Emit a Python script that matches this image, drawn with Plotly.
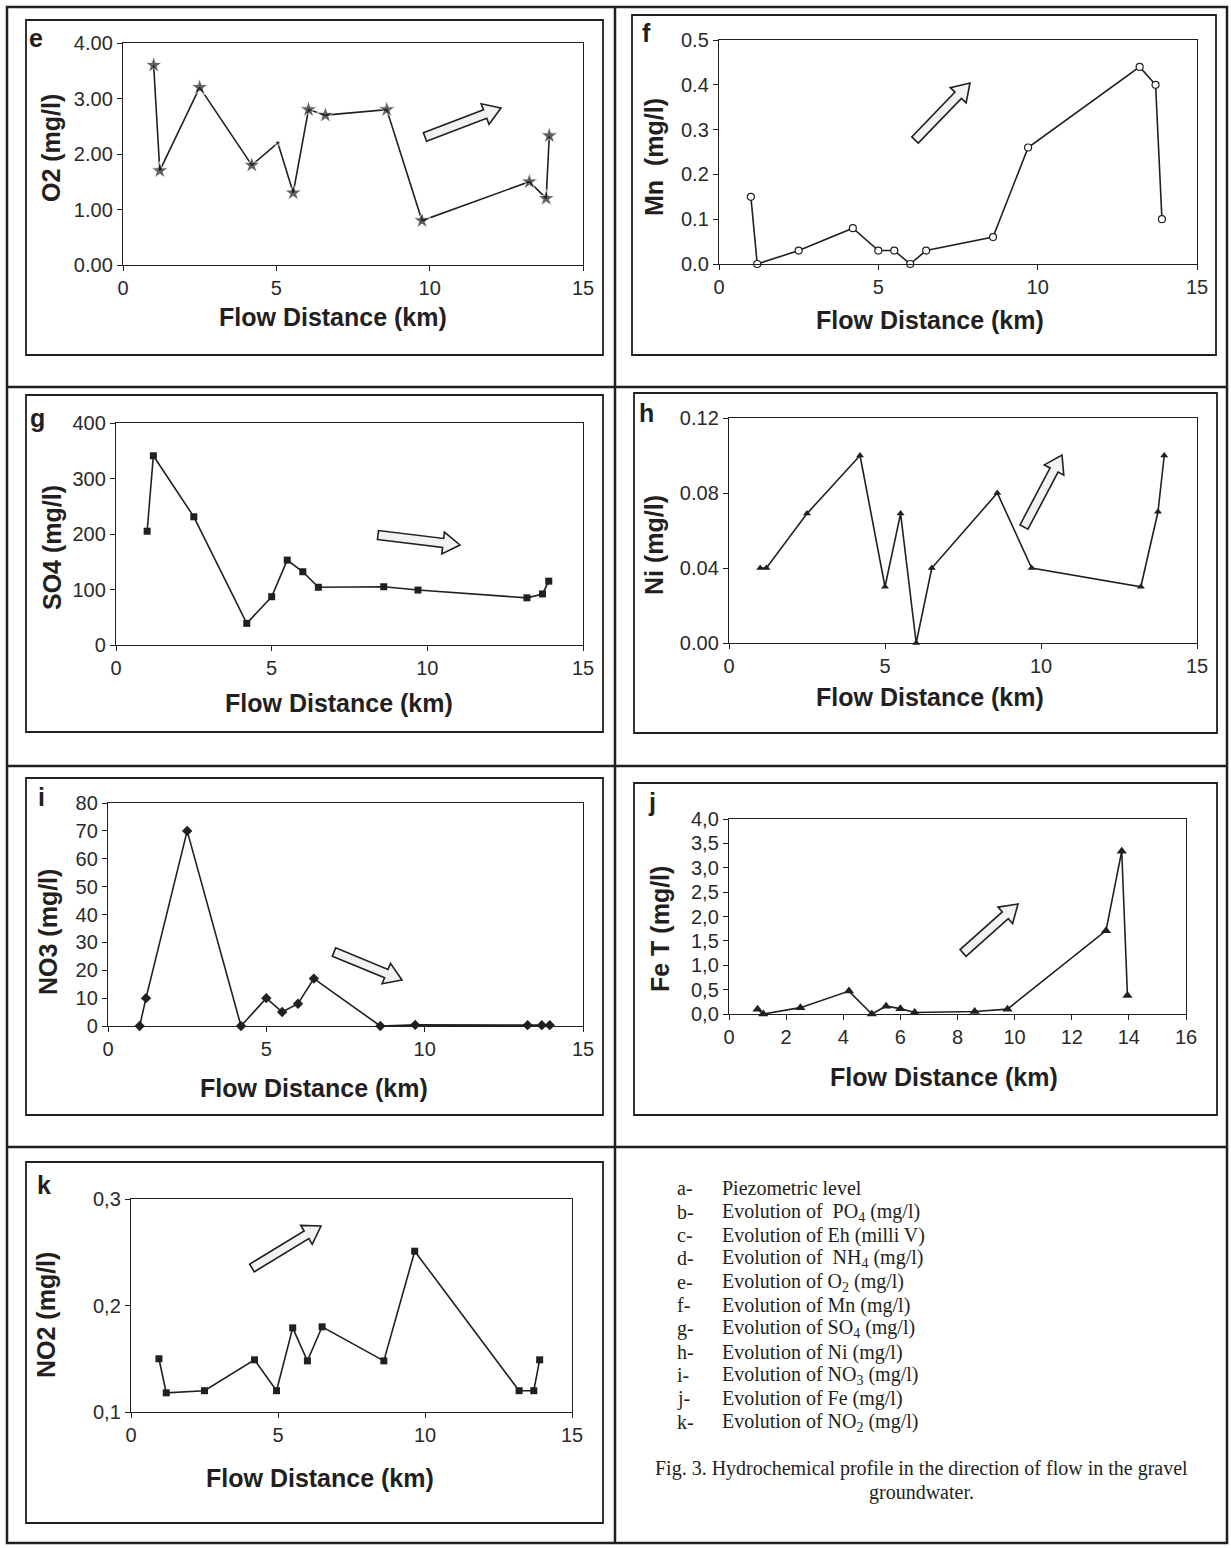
import math
import plotly.graph_objects as go

W, H = 1231, 1548

# ---------------- data ----------------
dist_e = [1.0, 1.2, 2.5, 4.2, 5.05, 5.55, 6.05, 6.6, 8.6, 9.75, 13.25, 13.8, 13.9]
o2 = [3.6, 1.7, 3.2, 1.8, 2.2, 1.3, 2.8, 2.7, 2.8, 0.8, 1.5, 1.2, 2.33]

dist_f = [1.0, 1.2, 2.5, 4.2, 5.0, 5.5, 6.0, 6.5, 8.6, 9.7, 13.2, 13.7, 13.9]
mn = [0.15, 0.0, 0.03, 0.08, 0.03, 0.03, 0.0, 0.03, 0.06, 0.26, 0.44, 0.40, 0.10]

dist_g = [1.0, 1.2, 2.5, 4.2, 5.0, 5.5, 6.0, 6.5, 8.6, 9.7, 13.2, 13.7, 13.9]
so4 = [205, 341, 231, 39, 87, 153, 132, 104, 105, 99, 85, 92, 115]

dist_h = [1.0, 1.2, 2.5, 4.2, 5.0, 5.5, 6.0, 6.5, 8.6, 9.7, 13.2, 13.75, 13.95]
ni = [0.04, 0.04, 0.069, 0.1, 0.03, 0.069, 0.0, 0.04, 0.08, 0.04, 0.03, 0.07, 0.1]

dist_i = [1.0, 1.2, 2.5, 4.2, 5.0, 5.5, 6.0, 6.5, 8.6, 9.7, 13.25, 13.7, 13.95]
no3 = [0, 10, 70, 0, 10, 5, 8, 17, 0, 0.4, 0.3, 0.3, 0.3]

dist_j = [1.0, 1.2, 2.5, 4.2, 5.0, 5.5, 6.0, 6.5, 8.6, 9.75, 13.2, 13.75, 13.95]
fe = [0.1, 0.0, 0.13, 0.47, 0.0, 0.16, 0.11, 0.03, 0.05, 0.1, 1.71, 3.34, 0.38]

dist_k = [0.95, 1.2, 2.5, 4.2, 4.95, 5.5, 6.0, 6.5, 8.6, 9.65, 13.2, 13.7, 13.9]
no2 = [0.15, 0.118, 0.12, 0.149, 0.12, 0.179, 0.148, 0.18, 0.148, 0.251, 0.12, 0.12, 0.149]

# tick labels
e_yvals = [0, 1, 2, 3, 4]
e_ytext = ["0.00", "1.00", "2.00", "3.00", "4.00"]
f_yvals = [0, 0.1, 0.2, 0.3, 0.4, 0.5]
f_ytext = ["0.0", "0.1", "0.2", "0.3", "0.4", "0.5"]
g_yvals = [0, 100, 200, 300, 400]
g_ytext = ["0", "100", "200", "300", "400"]
h_yvals = [0, 0.04, 0.08, 0.12]
h_ytext = ["0.00", "0.04", "0.08", "0.12"]
i_yvals = [0, 10, 20, 30, 40, 50, 60, 70, 80]
i_ytext = ["0", "10", "20", "30", "40", "50", "60", "70", "80"]
j_yvals = [0, 0.5, 1, 1.5, 2, 2.5, 3, 3.5, 4]
j_ytext = ["0,0", "0,5", "1,0", "1,5", "2,0", "2,5", "3,0", "3,5", "4,0"]
k_yvals = [0.1, 0.2, 0.3]
k_ytext = ["0,1", "0,2", "0,3"]
x15_vals = [0, 5, 10, 15]
x16_vals = [0, 2, 4, 6, 8, 10, 12, 14, 16]

legend_keys = ["a-", "b-", "c-", "d-", "e-", "f-", "g-", "h-", "i-", "j-", "k-"]
legend_texts = [
    "Piezometric level",
    "Evolution of  PO<sub>4</sub> (mg/l)",
    "Evolution of Eh (milli V)",
    "Evolution of  NH<sub>4</sub> (mg/l)",
    "Evolution of O<sub>2</sub> (mg/l)",
    "Evolution of Mn (mg/l)",
    "Evolution of SO<sub>4</sub> (mg/l)",
    "Evolution of Ni (mg/l)",
    "Evolution of NO<sub>3</sub> (mg/l)",
    "Evolution of Fe (mg/l)",
    "Evolution of NO<sub>2</sub> (mg/l)",
]
caption_1 = "Fig. 3. Hydrochemical profile in the direction of flow in the gravel"
caption_2 = "groundwater."

# ---------------- layout / style ----------------
INK = "#231f20"
SANS = "Liberation Sans, Arial, sans-serif"
SERIF = "Liberation Serif, Times New Roman, serif"


def px(x, y):
    return x / W, 1 - y / H


panels = [
    dict(letter="e", lpos=(36, 38), plot=(123, 43, 583, 265), box=(26, 20, 603, 355),
         x=dist_e, y=o2, xr=[0, 15], xv=x15_vals, yr=[0, 4], yv=e_yvals, yt=e_ytext,
         ytitle="O2 (mg/l)", ytp=(51, 148), xtp=(333, 317),
         marker=dict(symbol="star", size=[13, 13, 13, 13, 6, 13, 13, 13, 13, 13, 13, 13, 13],
                     color=INK),
         arrow=((425, 137), (501, 108))),
    dict(letter="f", lpos=(646, 33), plot=(719, 40, 1197, 264), box=(632, 15, 1216, 355),
         x=dist_f, y=mn, xr=[0, 15], xv=x15_vals, yr=[0, 0.5], yv=f_yvals, yt=f_ytext,
         ytitle="Mn  (mg/l)", ytp=(654, 157), xtp=(930, 320),
         marker=dict(symbol="circle", size=7, color="white", line=dict(color=INK, width=1.2)),
         arrow=((915, 140), (970, 83))),
    dict(letter="g", lpos=(37, 418), plot=(116, 423, 583, 645), box=(26, 395, 603, 732),
         x=dist_g, y=so4, xr=[0, 15], xv=x15_vals, yr=[0, 400], yv=g_yvals, yt=g_ytext,
         ytitle="SO4 (mg/l)", ytp=(52, 548), xtp=(339, 703),
         marker=dict(symbol="square", size=7, color=INK),
         arrow=((378, 535), (460, 545))),
    dict(letter="h", lpos=(646, 413), plot=(729, 418, 1197, 643), box=(634, 393, 1217, 733),
         x=dist_h, y=ni, xr=[0, 15], xv=x15_vals, yr=[0, 0.12], yv=h_yvals, yt=h_ytext,
         ytitle="Ni (mg/l)", ytp=(654, 545), xtp=(930, 697),
         marker=dict(symbol="triangle-up", size=7, color=INK),
         arrow=((1024, 527), (1062, 455))),
    dict(letter="i", lpos=(41, 797), plot=(108, 803, 583, 1026), box=(26, 778, 603, 1115),
         x=dist_i, y=no3, xr=[0, 15], xv=x15_vals, yr=[0, 80], yv=i_yvals, yt=i_ytext,
         ytitle="NO3 (mg/l)", ytp=(48, 932), xtp=(314, 1088),
         marker=dict(symbol="diamond", size=8, color=INK),
         arrow=((334, 952), (402, 980))),
    dict(letter="j", lpos=(652, 802), plot=(729, 819, 1186, 1014), box=(634, 783, 1217, 1115),
         x=dist_j, y=fe, xr=[0, 16], xv=x16_vals, yr=[0, 4], yv=j_yvals, yt=j_ytext,
         ytitle="Fe T (mg/l)", ytp=(660, 929), xtp=(944, 1077),
         marker=dict(symbol="triangle-up", size=9, color=INK),
         arrow=((963, 953), (1018, 904))),
    dict(letter="k", lpos=(44, 1185), plot=(131, 1199, 572, 1412), box=(26, 1162, 603, 1523),
         x=dist_k, y=no2, xr=[0, 15], xv=x15_vals, yr=[0.1, 0.3], yv=k_yvals, yt=k_ytext,
         ytitle="NO2 (mg/l)", ytp=(46, 1315), xtp=(320, 1478),
         marker=dict(symbol="square", size=7, color=INK),
         arrow=((252, 1268), (321, 1226))),
]


def arrow_path(tail, tip, w=4.5, hw=11, hl=17):
    (x0, y0), (x1, y1) = tail, tip
    dx, dy = x1 - x0, y1 - y0
    L = math.hypot(dx, dy)
    ux, uy = dx / L, dy / L
    nx, ny = -uy, ux
    bx, by = x1 - ux * hl, y1 - uy * hl
    pts = [
        (x0 + nx * w, y0 + ny * w),
        (bx + nx * w, by + ny * w),
        (bx + nx * hw, by + ny * hw),
        (x1, y1),
        (bx - nx * hw, by - ny * hw),
        (bx - nx * w, by - ny * w),
        (x0 - nx * w, y0 - ny * w),
    ]
    s = ""
    for i, (x, y) in enumerate(pts):
        X, Y = px(x, y)
        s += ("M" if i == 0 else "L") + f"{X:.5f},{Y:.5f} "
    return s + "Z"


fig = go.Figure()
shapes = []
annotations = []
layout_axes = {}

# table grid
tl, tt, tr, tb = 7, 7, 1227, 1543
X0, Y0 = px(tl, tt)
X1, Y1 = px(tr, tb)
shapes.append(dict(type="rect", xref="paper", yref="paper", x0=X0, y0=Y1, x1=X1, y1=Y0,
                   line=dict(color=INK, width=2.5), layer="below"))
vx, _ = px(615, 0)
shapes.append(dict(type="line", xref="paper", yref="paper", x0=vx, x1=vx, y0=Y1, y1=Y0,
                   line=dict(color=INK, width=2.5), layer="below"))
for hy in [387, 766, 1147]:
    _, Y = px(0, hy)
    shapes.append(dict(type="line", xref="paper", yref="paper", x0=X0, x1=X1, y0=Y, y1=Y,
                       line=dict(color=INK, width=2.5), layer="below"))

for idx, p in enumerate(panels, start=1):
    xa = "x" if idx == 1 else f"x{idx}"
    ya = "y" if idx == 1 else f"y{idx}"
    l, t, r, b = p["plot"]
    fig.add_trace(go.Scatter(
        x=p["x"], y=p["y"], mode="lines+markers", xaxis=xa, yaxis=ya,
        line=dict(color=INK, width=1.6), marker=p["marker"], showlegend=False,
        cliponaxis=False, hoverinfo="x+y"))
    common = dict(showline=True, linecolor=INK, linewidth=1.4, mirror=True,
                  ticks="outside", ticklen=5, tickwidth=1, tickcolor=INK,
                  showgrid=False, zeroline=False, automargin=False,
                  tickfont=dict(family=SANS, size=20, color="#2a2a2a"))
    layout_axes["xaxis" if idx == 1 else f"xaxis{idx}"] = dict(
        domain=[l / W, r / W], anchor=ya, range=p["xr"], tickmode="array",
        tickvals=p["xv"], ticktext=[str(v) for v in p["xv"]], **common)
    layout_axes["yaxis" if idx == 1 else f"yaxis{idx}"] = dict(
        domain=[1 - b / H, 1 - t / H], anchor=xa, range=p["yr"], tickmode="array",
        tickvals=p["yv"], ticktext=p["yt"], **common)
    # panel box
    bl, bt, br, bb = p["box"]
    BX0, BY0 = px(bl, bt)
    BX1, BY1 = px(br, bb)
    shapes.append(dict(type="rect", xref="paper", yref="paper", x0=BX0, y0=BY1, x1=BX1, y1=BY0,
                       line=dict(color=INK, width=1.8), layer="below"))
    # arrow
    shapes.append(dict(type="path", xref="paper", yref="paper",
                       path=arrow_path(*p["arrow"]), fillcolor="#f2f2f2",
                       line=dict(color=INK, width=1.6)))
    # texts
    lx, ly = px(*p["lpos"])
    annotations.append(dict(x=lx, y=ly, xref="paper", yref="paper", text=f"<b>{p['letter']}</b>",
                            showarrow=False, xanchor="center", yanchor="middle",
                            font=dict(family=SANS, size=25, color=INK)))
    ax_, ay_ = px(*p["ytp"])
    annotations.append(dict(x=ax_, y=ay_, xref="paper", yref="paper", text=f"<b>{p['ytitle']}</b>",
                            showarrow=False, textangle=-90, xanchor="center", yanchor="middle",
                            font=dict(family=SANS, size=25, color=INK)))
    tx, ty = px(*p["xtp"])
    annotations.append(dict(x=tx, y=ty, xref="paper", yref="paper", text="<b>Flow Distance (km)</b>",
                            showarrow=False, xanchor="center", yanchor="middle",
                            font=dict(family=SANS, size=25, color=INK)))

# legend text block
leg_y = [1188, 1212, 1235, 1258, 1282, 1305, 1328, 1352, 1375, 1398, 1422]
for key, txt, yy in zip(legend_keys, legend_texts, leg_y):
    kx, ky = px(675, yy)
    annotations.append(dict(x=kx, y=ky, xref="paper", yref="paper", text=key, showarrow=False,
                            xanchor="left", yanchor="middle",
                            font=dict(family=SERIF, size=20, color=INK)))
    vx2, vy2 = px(720, yy)
    annotations.append(dict(x=vx2, y=vy2, xref="paper", yref="paper", text=txt, showarrow=False,
                            xanchor="left", yanchor="middle",
                            font=dict(family=SERIF, size=20, color=INK)))
for txt, yy in [(caption_1, 1468), (caption_2, 1492)]:
    cx, cy = px(921, yy)
    annotations.append(dict(x=cx, y=cy, xref="paper", yref="paper", text=txt, showarrow=False,
                            xanchor="center", yanchor="middle",
                            font=dict(family=SERIF, size=20, color=INK)))

fig.update_layout(
    width=W, height=H, autosize=False,
    margin=dict(l=0, r=0, t=0, b=0, pad=0),
    paper_bgcolor="white", plot_bgcolor="white",
    shapes=shapes, annotations=annotations, showlegend=False,
    **layout_axes,
)

fig.write_html(
    "out.html",
    config={"displayModeBar": False},
    post_script="document.body.style.margin='0';document.body.style.overflow='hidden';",
)
